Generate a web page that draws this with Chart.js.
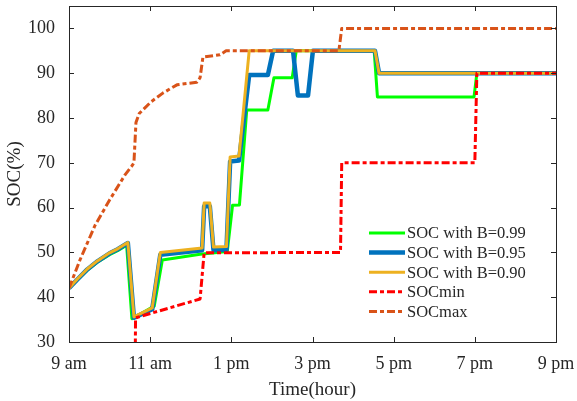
<!DOCTYPE html>
<html>
<head>
<meta charset="utf-8">
<script src="https://cdn.jsdelivr.net/npm/chart.js@4/dist/chart.umd.min.js"></script>
<style>
  html, body { margin: 0; padding: 0; background: #fff; }
  #wrap { width: 577px; height: 401px; }
</style>
</head>
<body>
<div id="wrap"><canvas id="myChart" width="577" height="401"></canvas></div>
<script>
// time axis in hours (9 = 9 am, 21 = 9 pm)
const tickLabels = ["9 am", "11 am", "1 pm", "3 pm", "5 pm", "7 pm", "9 pm"];

const b99Time = [9.0, 9.2, 9.45, 9.7, 10.0, 10.2, 10.42, 10.55, 11.1, 11.3, 12.23, 12.9, 13.03, 13.2, 13.38, 13.9, 14.05, 14.5, 14.6, 16.52, 16.6, 18.98, 19.05, 21];
const b99Soc  = [42, 43.8, 46, 47.8, 49.5, 50.4, 51.6, 35.2, 38, 48.3, 49.6, 50.2, 60.5, 60.6, 81.8, 81.8, 89, 89, 95, 95, 84.7, 84.7, 90, 90];

const b95Time = [9.0, 9.2, 9.45, 9.7, 10.0, 10.2, 10.45, 10.6, 11.05, 11.25, 12.28, 12.33, 12.47, 12.56, 12.88, 12.97, 13.19, 13.44, 13.9, 14.03, 14.52, 14.64, 14.89, 15.01, 16.54, 16.64, 21];
const b95Soc  = [42, 43.9, 46.2, 48, 49.8, 50.7, 52.1, 35.4, 37.3, 49.5, 50.5, 60.3, 60.3, 50.5, 50.6, 70.3, 70.5, 89.6, 89.6, 95, 95, 85, 85, 95, 95, 90, 90];

const b90Time = [9.0, 9.2, 9.45, 9.7, 10.0, 10.2, 10.45, 10.6, 11.05, 11.25, 12.28, 12.33, 12.47, 12.56, 12.88, 12.97, 13.19, 13.44, 16.54, 16.64, 21];
const b90Soc  = [42, 44, 46.3, 48.1, 49.9, 50.8, 52.2, 35.6, 37.6, 50, 51, 61, 61, 51.2, 51.3, 71.3, 71.5, 95, 95, 90, 90];

const minTime = [10.63, 10.64, 12.23, 12.33, 15.69, 15.72, 19.0, 19.05, 21];
const minSoc  = [25, 35.4, 39.6, 49.9, 50, 70, 70, 90, 90];

const maxTime = [9.0, 9.27, 9.64, 10.0, 10.38, 10.55, 10.6, 10.65, 10.73, 11.02, 11.32, 11.66, 12.15, 12.23, 12.3, 12.72, 12.87, 15.65, 15.72, 21];
const maxSoc  = [42, 48.3, 56, 61.7, 67.3, 69.3, 70, 79, 81, 83.6, 85.6, 87.4, 88, 89, 93.6, 94.1, 95, 95, 100, 100];

const seriesNames = ["SOC with B=0.99", "SOC with B=0.95", "SOC with B=0.90", "SOCmin", "SOCmax"];

function pts(t, v) { return t.map((x, i) => ({ x: x, y: v[i] })); }

const serif = "'Liberation Serif', 'Times New Roman', serif";
const axisFont = { family: serif, size: 18 };
const ink = '#262626';
const dashDot = [8, 3, 4, 3];

const data = {
    datasets: [
        { label: seriesNames[0], data: pts(b99Time, b99Soc), borderColor: '#00ff00', borderWidth: 3, order: 5 },
        { label: seriesNames[1], data: pts(b95Time, b95Soc), borderColor: '#0072bd', borderWidth: 4.5, order: 4 },
        { label: seriesNames[2], data: pts(b90Time, b90Soc), borderColor: '#edb120', borderWidth: 3, order: 3 },
        { label: seriesNames[3], data: pts(minTime, minSoc), borderColor: '#ff0000', borderWidth: 3, borderDash: dashDot, order: 2, clip: 0 },
        { label: seriesNames[4], data: pts(maxTime, maxSoc), borderColor: '#d95319', borderWidth: 3, borderDash: dashDot, order: 1 }
    ]
};

// MATLAB style box with inward ticks + legend inside the axes
const boxPlugin = {
    id: 'box',
    afterDraw(chart) {
        const { ctx, chartArea: a, scales } = chart;
        ctx.save();
        ctx.strokeStyle = ink;
        ctx.lineWidth = 1;
        ctx.strokeRect(a.left + 0.5, a.top + 0.5, a.right - a.left, a.bottom - a.top);
        ctx.beginPath();
        scales.x.ticks.forEach(t => {
            const px = Math.round(scales.x.getPixelForValue(t.value)) + 0.5;
            ctx.moveTo(px, a.bottom); ctx.lineTo(px, a.bottom - 5);
            ctx.moveTo(px, a.top); ctx.lineTo(px, a.top + 5);
        });
        scales.y.ticks.forEach(t => {
            const py = Math.round(scales.y.getPixelForValue(t.value)) + 0.5;
            ctx.moveTo(a.left, py); ctx.lineTo(a.left + 5, py);
            ctx.moveTo(a.right, py); ctx.lineTo(a.right - 5, py);
        });
        ctx.stroke();

        // legend
        let y = 233;
        ctx.font = "16.5px " + serif;
        ctx.textBaseline = 'middle';
        ctx.fillStyle = ink;
        chart.data.datasets.forEach(ds => {
            ctx.beginPath();
            ctx.strokeStyle = ds.borderColor;
            ctx.lineWidth = ds.borderWidth;
            ctx.setLineDash(ds.borderDash || []);
            ctx.moveTo(369, y); ctx.lineTo(405, y);
            ctx.stroke();
            ctx.setLineDash([]);
            ctx.fillText(ds.label, 407, y + 1);
            y += 19.6;
        });
        ctx.restore();
    }
};

const config = {
    type: 'line',
    data: data,
    options: {
        responsive: false,
        animation: false,
        layout: { padding: { top: 6, right: 21, left: 0, bottom: 0 } },
        elements: { point: { radius: 0 }, line: { tension: 0, borderCapStyle: 'butt', borderJoinStyle: 'round' } },
        plugins: { legend: { display: false }, tooltip: { enabled: false } },
        scales: {
            x: {
                type: 'linear',
                min: 9, max: 21,
                grid: { display: false },
                border: { display: false },
                ticks: {
                    stepSize: 2, color: ink, font: axisFont, padding: 3, maxRotation: 0,
                    callback: (v) => tickLabels[(v - 9) / 2]
                },
                title: { display: true, text: 'Time(hour)', color: ink, font: { family: serif, size: 19 }, padding: { top: 0, bottom: 0 } },
                afterFit: (s) => { s.height = 59; s.paddingLeft = 0; s.paddingRight = 0; }
            },
            y: {
                min: 30, max: 105,
                grid: { display: false },
                border: { display: false },
                ticks: { stepSize: 10, includeBounds: false, color: ink, font: axisFont, padding: 6 },
                title: { display: true, text: 'SOC(%)', color: ink, font: { family: serif, size: 19 }, padding: { top: 4, bottom: 0 } },
                afterFit: (s) => { s.width = 69; s.paddingTop = 0; s.paddingBottom = 0; }
            }
        }
    },
    plugins: [boxPlugin]
};

var ctx = document.getElementById("myChart").getContext('2d');
var myChart = new Chart(ctx, config);
</script>
</body>
</html>
